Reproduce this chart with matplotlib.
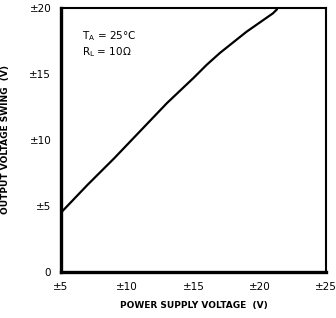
import matplotlib
matplotlib.use("Agg")
import matplotlib.pyplot as plt

supply_v = [5, 7, 9, 11, 13, 15, 16, 17, 18, 19, 20, 21, 21.3]
swing_v = [4.5, 6.6, 8.6, 10.7, 12.8, 14.7, 15.7, 16.6, 17.4, 18.2, 18.9, 19.6, 19.9]

x_ticks = [5, 10, 15, 20, 25]
x_labels = ["±5", "±10", "±15", "±20", "±25"]
y_ticks = [0, 5, 10, 15, 20]
y_labels = ["0", "±5", "±10", "±15", "±20"]

plt.rcParams["font.family"] = ["DejaVu Sans"]

fig = plt.figure(figsize=(3.36, 3.18), dpi=100)
ax = fig.add_axes([61 / 336, 1 - 272 / 318, 265 / 336, 264 / 318])

ax.plot(supply_v, swing_v, color="black", linewidth=1.6, solid_capstyle="round")

ax.set_xlim(5, 25)
ax.set_ylim(0, 20)
ax.set_xticks(x_ticks)
ax.set_xticklabels(x_labels)
ax.set_yticks(y_ticks)
ax.set_yticklabels(y_labels)
ax.tick_params(length=0, labelsize=7.5, pad=7)

ax.spines["left"].set_linewidth(2.4)
ax.spines["bottom"].set_linewidth(2.4)
ax.spines["top"].set_linewidth(1.5)
ax.spines["right"].set_linewidth(1.5)

ax.set_xlabel("POWER SUPPLY VOLTAGE  (V)", fontsize=6.5, fontweight="bold", labelpad=7)
ax.set_ylabel("OUTPUT VOLTAGE SWING  (V)", fontsize=6.5, fontweight="bold", labelpad=14)

ax.text(0.08, 0.88, "T$_\\mathregular{A}$ = 25°C", transform=ax.transAxes, fontsize=7.5)
ax.text(0.08, 0.82, "R$_\\mathregular{L}$ = 10Ω", transform=ax.transAxes, fontsize=7.5)

fig.savefig("out.png", dpi=100)
